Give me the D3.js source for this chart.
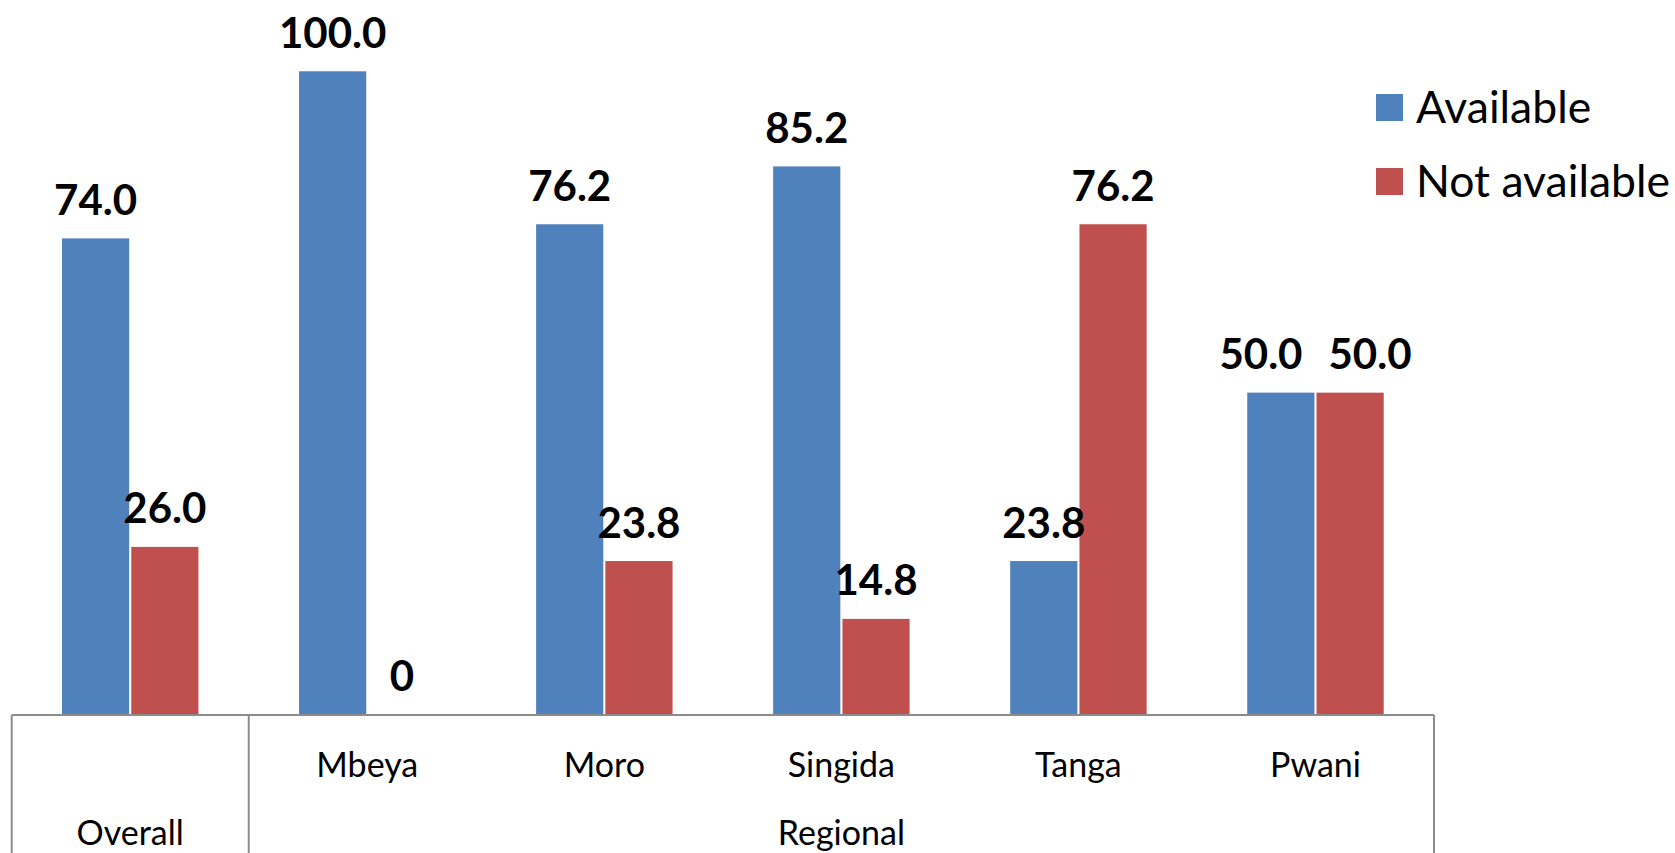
<!DOCTYPE html>
<html>
<head>
<meta charset="utf-8">
<script src="https://cdn.jsdelivr.net/npm/d3@7"></script>
<style>
  html, body { margin: 0; padding: 0; background: #fff; overflow: hidden; }
  svg { display: block; }
</style>
</head>
<body>
<svg id="chart" width="1675" height="853"></svg>
<script>
// Availability by region (percent)
const categories = ["Overall", "Mbeya", "Moro", "Singida", "Tanga", "Pwani"];
const groups = ["Overall", "Regional"];
const categoryGroup = ["Overall", "Regional", "Regional", "Regional", "Regional", "Regional"];
const seriesNames = ["Available", "Not available"];
const available = [74.0, 100.0, 76.2, 85.2, 23.8, 50.0];
const notAvailable = [26.0, 0, 23.8, 14.8, 76.2, 50.0];
const valueLabels = [
  ["74.0", "100.0", "76.2", "85.2", "23.8", "50.0"],
  ["26.0", "0", "23.8", "14.8", "76.2", "50.0"]
];
const colors = ["#4F81BD", "#C0504D"];

const svg = d3.select("#chart");
const left = 11.7, right = 1434, baseY = 714, topY = 71.3;

const x0 = d3.scaleBand().domain(categories).range([left, right]);
const bw = x0.bandwidth();
const x1 = d3.scaleBand().domain(seriesNames)
  .range([bw * 0.2122, bw * (1 - 0.2122)]).paddingInner(0.03);
const y = d3.scaleLinear().domain([0, 100]).range([baseY, topY]);

const seriesData = [available, notAvailable];
const rows = [];
seriesNames.forEach((s, si) => {
  categories.forEach((c, ci) => {
    rows.push({ s, si, c, ci, v: seriesData[si][ci], label: valueLabels[si][ci] });
  });
});

// bars
svg.append("g").selectAll("rect").data(rows).join("rect")
  .attr("x", d => x0(d.c) + x1(d.s))
  .attr("y", d => y(d.v))
  .attr("width", x1.bandwidth())
  .attr("height", d => baseY - y(d.v))
  .attr("fill", d => colors[d.si]);

// value labels
const labels = svg.append("g").selectAll("text").data(rows).join("text")
  .attr("x", d => x0(d.c) + x1(d.s) + x1.bandwidth() / 2)
  .attr("y", d => y(d.v) - 23.5)
  .attr("text-anchor", "middle")
  .attr("font-family", "Lato, sans-serif")
  .attr("font-weight", "bold")
  .attr("font-size", 42)
  .attr("fill", "#000")
  .text(d => d.label);

// push apart side-by-side labels that sit at the same height and collide
const minGap = 26;
categories.forEach((c, ci) => {
  const pair = labels.filter(d => d.ci === ci).nodes();
  if (pair.length !== 2) return;
  const [a, b] = pair;
  const da = d3.select(a).datum(), db = d3.select(b).datum();
  if (Math.abs(y(da.v) - y(db.v)) > 30) return;
  const ba = a.getBBox(), bb = b.getBBox();
  const overlap = (ba.x + ba.width + minGap) - bb.x;
  if (overlap > 0) {
    d3.select(a).attr("x", +a.getAttribute("x") - overlap / 2);
    d3.select(b).attr("x", +b.getAttribute("x") + overlap / 2);
  }
});

// category axis with two-level labels
const axisY = 715;
const axisG = svg.append("g").attr("stroke", "#8c8c8c").attr("stroke-width", 2);
axisG.append("line").attr("x1", left).attr("x2", right).attr("y1", axisY).attr("y2", axisY);
const groupEdges = [left, x0(categories[1]), right];
groupEdges.forEach(gx => {
  axisG.append("line").attr("x1", gx).attr("x2", gx).attr("y1", axisY).attr("y2", 853);
});

svg.append("g").selectAll("text")
  .data(categories.filter((c, i) => categoryGroup[i] !== c))
  .join("text")
  .attr("x", c => x0(c) + bw / 2)
  .attr("y", 777)
  .attr("text-anchor", "middle")
  .attr("font-family", "Lato, sans-serif")
  .attr("font-size", 34)
  .attr("fill", "#000")
  .text(c => c);

svg.append("g").selectAll("text").data(groups).join("text")
  .attr("x", g => {
    const idx = categories.map((c, i) => i).filter(i => categoryGroup[i] === g);
    const a = x0(categories[idx[0]]);
    const b = x0(categories[idx[idx.length - 1]]) + bw;
    return (a + b) / 2;
  })
  .attr("y", 845)
  .attr("text-anchor", "middle")
  .attr("font-family", "Lato, sans-serif")
  .attr("font-size", 34)
  .attr("fill", "#000")
  .text(g => g);

// legend
const legend = svg.append("g").attr("transform", "translate(1376,94)");
seriesNames.forEach((s, i) => {
  const g = legend.append("g").attr("transform", `translate(0,${i * 74})`);
  g.append("rect").attr("width", 27).attr("height", 27).attr("fill", colors[i]);
  g.append("text").attr("x", 40).attr("y", 28.5)
    .attr("font-family", "Lato, sans-serif")
    .attr("font-size", 44.5)
    .attr("fill", "#000")
    .text(s);
});
</script>
</body>
</html>
